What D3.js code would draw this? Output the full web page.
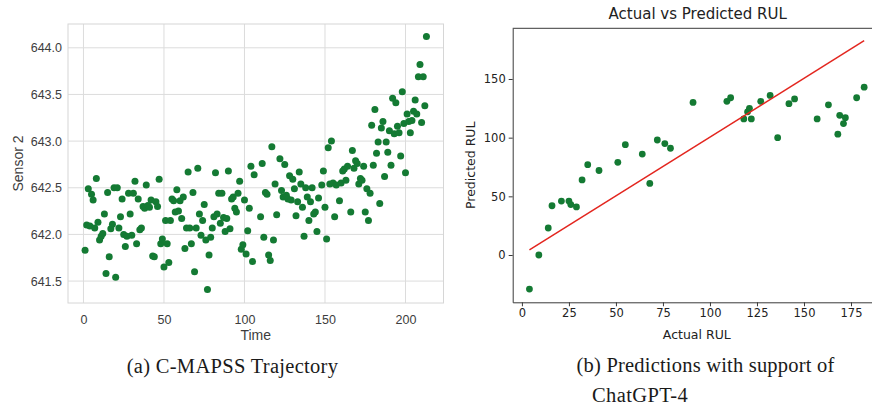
<!DOCTYPE html>
<html>
<head>
<meta charset="utf-8">
<script src="https://cdn.jsdelivr.net/npm/d3@7"></script>
<style>
  body { margin: 0; background: #ffffff; }
  svg { display: block; }
</style>
</head>
<body>
<div class="figure"></div>
<script>
// (a) C-MAPSS trajectory: cycle number and sensor 2 reading
var cycles = [
  1, 2, 3, 4, 5, 6, 7, 8, 9, 10, 11, 12, 13, 14, 15, 16, 17, 18, 19, 20,
  21, 22, 23, 24, 25, 26, 27, 28, 29, 30, 31, 32, 33, 34, 35, 36, 37, 38, 39, 40,
  41, 42, 43, 44, 45, 46, 47, 48, 49, 50, 51, 52, 53, 54, 55, 56, 57, 58, 59, 60,
  61, 62, 63, 64, 65, 66, 67, 68, 69, 70, 71, 72, 73, 74, 75, 76, 77, 78, 79, 80,
  81, 82, 83, 84, 85, 86, 87, 88, 89, 90, 91, 92, 93, 94, 95, 96, 97, 98, 99, 100,
  101, 102, 103, 104, 105, 106,
  110, 111, 112, 113, 114, 115, 116, 117, 118, 119, 120, 122, 123, 124, 125, 126, 127, 128, 129, 130,
  131, 132, 133, 134, 135, 136, 137, 138, 139, 140, 141, 142, 143, 144, 145, 146, 148, 149, 150, 151,
  152, 153, 154, 155, 156, 157, 159, 160, 161, 162, 163, 164, 166, 167, 168, 169, 170, 171, 172, 173,
  174, 175, 176, 177, 178, 179, 180, 181, 182, 183, 184, 185, 186, 187, 188, 189, 190, 191, 192, 193,
  194, 195, 196, 197, 198, 199, 200, 201, 202, 203, 204, 205, 206, 207, 208, 209, 210, 211, 212, 213
];
var sensor2 = [
  641.83, 642.10, 642.49, 642.09, 642.43, 642.37, 642.07, 642.60, 642.13, 641.94,
  641.98, 642.01, 642.22, 641.58, 642.45, 641.76, 642.06, 642.11, 642.50, 641.54,
  642.50, 642.07, 642.19, 642.38, 642.00, 641.87, 641.98, 642.44, 642.22, 641.99,
  642.44, 642.57, 641.90, 642.38, 642.05, 642.07, 642.30, 642.28, 642.53, 642.31,
  642.29, 642.37, 641.77, 641.76, 642.35, 642.30, 642.59, 641.90, 641.95, 641.65,
  642.15, 641.90, 641.70, 642.15, 642.38, 642.36, 642.24, 642.48, 642.25, 642.36,
  642.17, 642.40, 641.85, 642.07, 642.67, 642.07, 641.90, 642.45, 641.60, 642.07,
  642.71, 642.22, 641.99, 642.15, 642.32, 641.94, 641.41, 641.78, 641.97, 642.07,
  642.19, 642.66, 642.22, 642.44, 642.12, 642.44, 642.18, 642.03, 642.17, 642.68,
  642.06, 642.38, 642.40, 642.28, 642.24, 642.44, 642.57, 641.84, 641.89, 642.37,
  641.79, 642.04, 642.28, 642.73, 641.71, 642.64,
  642.19, 642.76, 641.97, 642.45, 642.43, 641.78, 641.72, 642.94, 641.94, 642.54,
  642.21, 642.81, 642.47, 642.40, 642.75, 642.42, 642.38, 642.63, 642.37, 642.59,
  642.49, 642.20, 642.35, 642.67, 642.54, 642.29, 641.98, 642.50, 642.40, 642.15,
  642.35, 642.50, 642.22, 642.24, 642.03, 642.39, 642.53, 642.68, 642.29, 641.95,
  642.93, 642.54, 643.00, 642.55, 642.19, 642.53, 642.36, 642.55, 642.68, 642.70,
  642.58, 642.73, 642.24, 642.90, 642.71, 642.79, 642.76, 642.54, 642.60, 642.58,
  642.73, 642.24, 642.49, 642.15, 642.44, 643.17, 642.74, 643.34, 642.87, 642.99,
  642.33, 643.14, 643.21, 642.62, 642.99, 642.88, 643.11, 642.74, 643.46, 643.08,
  643.41, 643.16, 643.09, 642.84, 643.53, 643.19, 642.66, 643.29, 643.21, 643.09,
  643.22, 643.32, 643.44, 643.29, 643.69, 643.82, 643.20, 643.69, 643.38, 644.12
];
var timeTicks = [0, 50, 100, 150, 200];
var sensorTicks = [641.5, 642.0, 642.5, 643.0, 643.5, 644.0];

// (b) actual vs predicted RUL
var actualRUL = [4, 9, 14, 16, 21, 25, 26, 29, 32, 35, 41, 51, 55, 64, 68, 72, 76, 79,
  91, 109, 111, 118, 120, 121, 122, 127, 132, 136, 142, 145, 157, 163, 168, 169, 171, 172, 178, 182];
var predictedRUL = [-29, 0, 23, 42, 46, 46, 43, 41, 64, 77, 72, 79, 94, 86, 61, 98, 95, 91,
  130, 131, 134, 116, 122, 125, 116, 131, 136, 100, 129, 133, 116, 128, 103, 119, 112, 117, 134, 143];
var fitX = [4, 182];
var fitY = [4.3, 182.6];
var rulXTicks = [0, 25, 50, 75, 100, 125, 150, 175];
var rulYTicks = [0, 50, 100, 150];

var w = 872;
var h = 408;
var dotGreen = "#147a33";

var svg = d3.select(".figure")
  .append("svg")
  .attr("width", w)
  .attr("height", h);

// ---------- left panel ----------
var xA = d3.scaleLinear().domain([-9.6, 223.6]).range([68, 443.5]);
var yA = d3.scaleLinear().domain([641.265, 644.255]).range([303, 24]);

var gA = svg.append("g");

// grid lines
gA.append("g")
  .selectAll("line")
  .data(timeTicks)
  .enter()
  .append("line")
  .attr("x1", function (d) { return xA(d); })
  .attr("x2", function (d) { return xA(d); })
  .attr("y1", yA.range()[1])
  .attr("y2", yA.range()[0])
  .attr("stroke", "#dcdcdc")
  .attr("stroke-width", 1);
gA.append("g")
  .selectAll("line")
  .data(sensorTicks)
  .enter()
  .append("line")
  .attr("x1", xA.range()[0])
  .attr("x2", xA.range()[1])
  .attr("y1", function (d) { return yA(d); })
  .attr("y2", function (d) { return yA(d); })
  .attr("stroke", "#dcdcdc")
  .attr("stroke-width", 1);

// frame
gA.append("rect")
  .attr("x", xA.range()[0])
  .attr("y", yA.range()[1])
  .attr("width", xA.range()[1] - xA.range()[0])
  .attr("height", yA.range()[0] - yA.range()[1])
  .attr("fill", "none")
  .attr("stroke", "#d6d6d6");

// axes (labels only, seaborn whitegrid look)
var xAxisA = gA.append("g")
  .attr("transform", "translate(0," + yA.range()[0] + ")")
  .call(d3.axisBottom(xA).tickValues(timeTicks).tickSize(0).tickPadding(12));
var yAxisA = gA.append("g")
  .attr("transform", "translate(" + xA.range()[0] + ",0)")
  .call(d3.axisLeft(yA).tickValues(sensorTicks).tickFormat(d3.format(".1f")).tickSize(0).tickPadding(6));
[xAxisA, yAxisA].forEach(function (ax) {
  ax.select(".domain").remove();
  ax.selectAll("text")
    .style("font-family", "'Liberation Sans', Arial, sans-serif")
    .style("font-size", "12.5px")
    .attr("fill", "#3d3d3d");
});

gA.selectAll(".dotA")
  .data(cycles)
  .enter()
  .append("circle")
  .attr("class", "dotA")
  .attr("cx", function (d) { return xA(d); })
  .attr("cy", function (d, i) { return yA(sensor2[i]); })
  .attr("r", 3.5)
  .attr("fill", dotGreen);

gA.append("text")
  .attr("x", (xA.range()[0] + xA.range()[1]) / 2)
  .attr("y", 340)
  .attr("text-anchor", "middle")
  .style("font-family", "'Liberation Sans', Arial, sans-serif")
  .style("font-size", "14px")
  .attr("fill", "#3d3d3d")
  .text("Time");
gA.append("text")
  .attr("transform", "rotate(-90)")
  .attr("x", -(yA.range()[0] + yA.range()[1]) / 2)
  .attr("y", 23)
  .attr("text-anchor", "middle")
  .style("font-family", "'Liberation Sans', Arial, sans-serif")
  .style("font-size", "14px")
  .attr("fill", "#3d3d3d")
  .text("Sensor 2");

// ---------- right panel ----------
var xB = d3.scaleLinear().domain([-4.9, 190.9]).range([512.7, 880.9]);
var yB = d3.scaleLinear().domain([-40.3, 193.2]).range([302.3, 28.3]);

var gB = svg.append("g");

var xAxisB = gB.append("g")
  .attr("transform", "translate(0," + yB.range()[0] + ")")
  .call(d3.axisBottom(xB).tickValues(rulXTicks).tickSize(4).tickPadding(3).tickSizeOuter(0));
var yAxisB = gB.append("g")
  .attr("transform", "translate(" + xB.range()[0] + ",0)")
  .call(d3.axisLeft(yB).tickValues(rulYTicks).tickSize(4).tickPadding(3).tickSizeOuter(0));
[xAxisB, yAxisB].forEach(function (ax) {
  ax.select(".domain").attr("stroke", "#3a3a3a");
  ax.selectAll(".tick line").attr("stroke", "#3a3a3a");
  ax.selectAll("text")
    .style("font-family", "'DejaVu Sans', sans-serif")
    .style("font-size", "11.5px")
    .attr("fill", "#222");
});
// top and right spines
gB.append("line")
  .attr("x1", xB.range()[0])
  .attr("x2", xB.range()[1])
  .attr("y1", yB.range()[1])
  .attr("y2", yB.range()[1])
  .attr("stroke", "#3a3a3a");
gB.append("line")
  .attr("x1", xB.range()[1])
  .attr("x2", xB.range()[1])
  .attr("y1", yB.range()[1])
  .attr("y2", yB.range()[0])
  .attr("stroke", "#3a3a3a");

gB.selectAll(".dotB")
  .data(actualRUL)
  .enter()
  .append("circle")
  .attr("class", "dotB")
  .attr("cx", function (d) { return xB(d); })
  .attr("cy", function (d, i) { return yB(predictedRUL[i]); })
  .attr("r", 3.4)
  .attr("fill", dotGreen);

// fitted line
gB.append("path")
  .datum(fitX)
  .attr("fill", "none")
  .attr("stroke", "#e3261f")
  .attr("stroke-width", 1.5)
  .attr("d", d3.line()
    .x(function (d) { return xB(d); })
    .y(function (d, i) { return yB(fitY[i]); }));

gB.append("text")
  .attr("x", 697.7)
  .attr("y", 19)
  .attr("text-anchor", "middle")
  .style("font-family", "'DejaVu Sans', sans-serif")
  .style("font-size", "15px")
  .attr("fill", "#222")
  .text("Actual vs Predicted RUL");
gB.append("text")
  .attr("x", (xB.range()[0] + xB.range()[1]) / 2)
  .attr("y", 339)
  .attr("text-anchor", "middle")
  .style("font-family", "'DejaVu Sans', sans-serif")
  .style("font-size", "12.5px")
  .attr("fill", "#222")
  .text("Actual RUL");
gB.append("text")
  .attr("transform", "rotate(-90)")
  .attr("x", -(yB.range()[0] + yB.range()[1]) / 2)
  .attr("y", 475)
  .attr("text-anchor", "middle")
  .style("font-family", "'DejaVu Sans', sans-serif")
  .style("font-size", "12.5px")
  .attr("fill", "#222")
  .text("Predicted RUL");

// ---------- captions ----------
var captionFont = "'Liberation Serif', 'DejaVu Serif', serif";
svg.append("text")
  .attr("x", 232.5)
  .attr("y", 373)
  .attr("text-anchor", "middle")
  .style("font-family", captionFont)
  .style("font-size", "20.5px")
  .style("letter-spacing", "0.3px")
  .attr("fill", "#1a1a1a")
  .text("(a) C-MAPSS Trajectory");
svg.append("text")
  .attr("x", 705.5)
  .attr("y", 372)
  .attr("text-anchor", "middle")
  .style("font-family", captionFont)
  .style("font-size", "20.5px")
  .style("letter-spacing", "0.2px")
  .attr("fill", "#1a1a1a")
  .text("(b) Predictions with support of");
svg.append("text")
  .attr("x", 592)
  .attr("y", 402)
  .attr("text-anchor", "start")
  .style("font-family", captionFont)
  .style("font-size", "20.5px")
  .style("letter-spacing", "0.4px")
  .attr("fill", "#1a1a1a")
  .text("ChatGPT-4");
</script>
</body>
</html>
